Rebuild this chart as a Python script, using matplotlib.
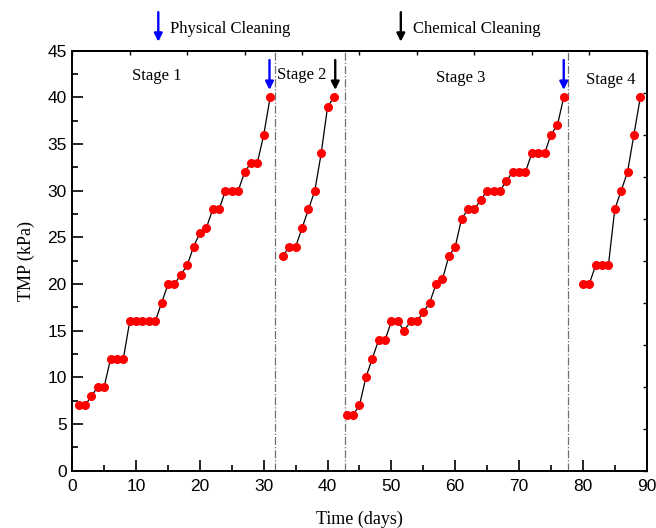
import numpy as np
import matplotlib.pyplot as plt
from matplotlib.ticker import MultipleLocator

# TMP data for the four filtration stages (days, kPa)
stage1_days = [1, 2, 3, 4, 5, 6, 7, 8, 9, 10, 11, 12, 13, 14, 15, 16, 17, 18, 19, 20,
               21, 22, 23, 24, 25, 26, 27, 28, 29, 30, 31]
stage1_tmp = [7, 7, 8, 9, 9, 12, 12, 12, 16, 16, 16, 16, 16, 18, 20, 20, 21, 22, 24, 25.5,
              26, 28, 28, 30, 30, 30, 32, 33, 33, 36, 40]

stage2_days = [33, 34, 35, 36, 37, 38, 39, 40, 41]
stage2_tmp = [23, 24, 24, 26, 28, 30, 34, 39, 40]

stage3_days = [43, 44, 45, 46, 47, 48, 49, 50, 51, 52, 53, 54, 55, 56, 57, 58, 59, 60,
               61, 62, 63, 64, 65, 66, 67, 68, 69, 70, 71, 72, 73, 74, 75, 76, 77]
stage3_tmp = [6, 6, 7, 10, 12, 14, 14, 16, 16, 15, 16, 16, 17, 18, 20, 20.5, 23, 24,
              27, 28, 28, 29, 30, 30, 30, 31, 32, 32, 32, 34, 34, 34, 36, 37, 40]

stage4_days = [80, 81, 82, 83, 84, 85, 86, 87, 88, 89]
stage4_tmp = [20, 20, 22, 22, 22, 28, 30, 32, 36, 40]

stage_names = ["Stage 1", "Stage 2", "Stage 3", "Stage 4"]
stage_label_x = [13.3, 36.0, 60.8, 84.4]
stage_label_y = [42.3, 42.4, 42.1, 41.9]
split_days = [31.7, 42.8, 77.7]

serif = "Liberation Serif"
sans = "Liberation Sans"

fig = plt.figure(figsize=(6.56, 5.28), dpi=100)
ax = fig.add_axes([0.1102, 0.1085, 0.8756, 0.7955])

for d, t in [(stage1_days, stage1_tmp), (stage2_days, stage2_tmp),
             (stage3_days, stage3_tmp), (stage4_days, stage4_tmp)]:
    ax.plot(d, t, color="black", lw=0.9, zorder=2)
    ax.plot(d, t, "o", color="#ff0000", markersize=6.5, markeredgewidth=0, zorder=3)

for x in split_days:
    ax.axvline(x, color="#707070", ls="-.", lw=0.9, zorder=1)

for name, x, y in zip(stage_names, stage_label_x, stage_label_y):
    ax.text(x, y, name, fontfamily=serif, fontsize=12, ha="center", va="center")

# cleaning arrows inside the plot
arrows = [(30.9, "blue"), (41.2, "black"), (77.0, "blue")]
for x, c in arrows:
    ax.annotate("", xy=(x, 40.8), xytext=(x, 44.0),
                arrowprops=dict(arrowstyle="-|>", color=c, lw=1.7,
                                mutation_scale=12, shrinkA=0, shrinkB=0))

# legend-ish arrows above the axes
for x, c, label in [(0.2413, "blue", "Physical Cleaning"),
                    (0.611, "black", "Chemical Cleaning")]:
    ax.annotate("", xy=(x, 0.921), xytext=(x, 0.977), xycoords="figure fraction",
                textcoords="figure fraction", annotation_clip=False,
                arrowprops=dict(arrowstyle="-|>", color=c, lw=1.7,
                                mutation_scale=12, shrinkA=0, shrinkB=0))
    fig.text(x + 0.018, 0.945, label, fontfamily=serif, fontsize=12, va="center")

ax.set_xlim(0, 90)
ax.set_ylim(0, 45)
ax.xaxis.set_major_locator(MultipleLocator(10))
ax.xaxis.set_minor_locator(MultipleLocator(5))
ax.yaxis.set_major_locator(MultipleLocator(5))
ax.yaxis.set_minor_locator(MultipleLocator(2.5))
ax.tick_params(which="major", direction="in", length=8, width=1.2, labelsize=12.5)
ax.tick_params(which="minor", direction="in", length=4.5, width=1.2)
for lab in ax.get_xticklabels() + ax.get_yticklabels():
    lab.set_fontfamily(sans)
ax.tick_params(axis="x", pad=6)
ax.tick_params(axis="y", pad=4)

# top and right axes with their own small ticks
top = ax.secondary_xaxis("top")
top.set_xticks([0, 9, 18, 27, 36, 45, 54, 63, 72, 81, 90])
top.tick_params(direction="in", length=3, width=1, labeltop=False)
right = ax.secondary_yaxis("right")
right.set_yticks([0, 4.5, 9, 13.5, 18, 22.5, 27, 31.5, 36, 40.5, 45])
right.tick_params(direction="in", length=3, width=1, labelright=False)

for s in ax.spines.values():
    s.set_linewidth(1.4)
top.spines["top"].set_linewidth(1.4)
right.spines["right"].set_linewidth(1.4)

ax.set_xlabel("Time (days)", fontfamily=serif, fontsize=13, labelpad=12)
ax.set_ylabel("TMP (kPa)", fontfamily=serif, fontsize=13, labelpad=9)

fig.savefig("out.png", dpi=100)
